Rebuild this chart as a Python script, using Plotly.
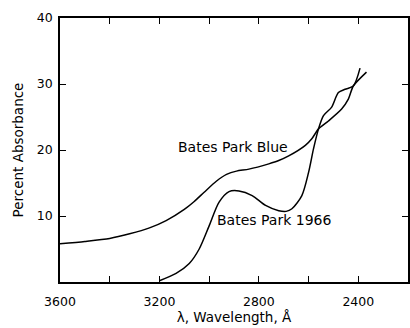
import plotly.graph_objects as go

# Bates Park Blue
blue_wl = [3600, 3500, 3400, 3320, 3240, 3173, 3100, 3060, 3020, 2970, 2930, 2890, 2840, 2760, 2720, 2680, 2613, 2587, 2560, 2520, 2467, 2440, 2420, 2367]
blue_ab = [5.8, 6.15, 6.6, 7.3, 8.2, 9.3, 11.0, 12.2, 13.6, 15.3, 16.3, 16.8, 17.1, 17.9, 18.4, 19.1, 20.7, 21.7, 23.2, 24.4, 26.2, 27.7, 29.7, 31.8]

# Bates Park 1966
p66_wl = [3200, 3133, 3080, 3040, 3000, 2960, 2920, 2880, 2827, 2773, 2720, 2690, 2667, 2627, 2600, 2580, 2560, 2540, 2507, 2480, 2453, 2420, 2393]
p66_ab = [0.2, 1.3, 2.8, 5.0, 8.5, 12.1, 13.7, 13.8, 13.1, 11.6, 10.8, 10.7, 11.1, 13.1, 16.6, 20.2, 23.2, 25.2, 26.5, 28.7, 29.2, 29.7, 32.4]

x_tickvals = [3600, 3400, 3200, 3000, 2800, 2600, 2400, 2200]
x_ticktext = ["3600", "", "3200", "", "2800", "", "2400", ""]
y_tickvals = [10, 20, 30, 40]

FONT = "DejaVu Sans, sans-serif"

fig = go.Figure()
fig.add_trace(go.Scatter(x=blue_wl, y=blue_ab, mode="lines", line=dict(color="black", width=1.5, shape="spline", smoothing=0.7), showlegend=False))
fig.add_trace(go.Scatter(x=p66_wl, y=p66_ab, mode="lines", line=dict(color="black", width=1.5, shape="spline", smoothing=0.8), showlegend=False))

fig.add_annotation(x=2904, y=20.45, text="Bates Park Blue", showarrow=False, font=dict(size=14, color="black", family=FONT))
fig.add_annotation(x=2740, y=9.4, text="Bates Park 1966", showarrow=False, font=dict(size=14, color="black", family=FONT))

fig.update_layout(
    width=410, height=328,
    margin=dict(l=60, r=0, t=18, b=46),
    paper_bgcolor="white", plot_bgcolor="white",
    font=dict(family=FONT, size=12, color="black"),
)
fig.update_xaxes(
    range=[3600, 2200], tickvals=x_tickvals, ticktext=x_ticktext,
    ticks="inside", ticklen=6, tickwidth=1, tickcolor="black",
    showline=True, linecolor="black", linewidth=1.5, mirror="ticks",
    showgrid=False, zeroline=False, ticklabelstandoff=7,
    title=dict(text="λ, Wavelength, Å", font=dict(size=13.5), standoff=2),
    tickfont=dict(size=12.5),
)
fig.update_yaxes(
    range=[0, 40], tickvals=y_tickvals,
    ticks="inside", ticklen=6, tickwidth=1, tickcolor="black",
    showline=True, linecolor="black", linewidth=1.5, mirror="ticks",
    showgrid=False, zeroline=False, ticklabelstandoff=3,
    title=dict(text="Percent Absorbance", font=dict(size=13.5), standoff=10),
    tickfont=dict(size=12.5),
)

fig.write_html("out.html")
